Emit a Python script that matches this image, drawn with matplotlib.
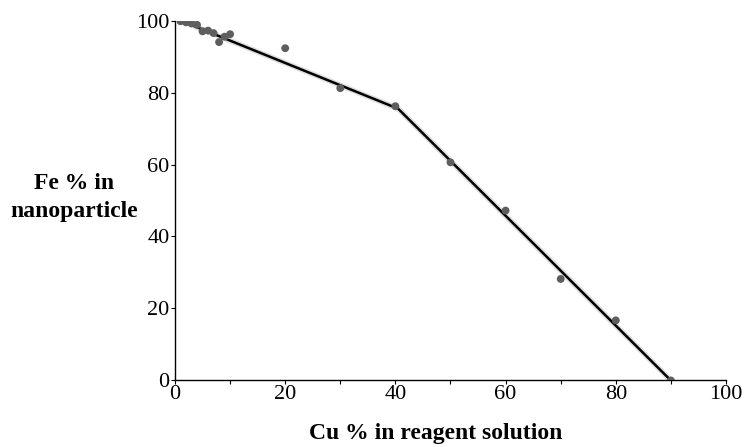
import matplotlib.pyplot as plt
from matplotlib.ticker import MultipleLocator

plt.rcParams['font.family'] = ['Liberation Serif', 'DejaVu Serif']

# measured points
cu = [1, 2, 3, 4, 5, 6, 7, 8, 9, 10, 20, 30, 40, 50, 60, 70, 80, 90]
fe = [99.8, 99.5, 99.2, 98.8, 97, 97.2, 96.5, 94, 95.5, 96.2,
      92.3, 81.2, 76.2, 60.6, 47.2, 28.2, 16.7, 0]

# piecewise trend line
fit_cu = [1, 40.5, 90]
fit_fe = [100, 75.5, 0]

fig = plt.figure(figsize=(7.44, 4.47), dpi=100)
ax = fig.add_axes([0.2352, 0.1488, 0.7406, 0.8053])

ax.plot(fit_cu, fit_fe, color='#c8c8c8', lw=4, zorder=1, alpha=0.6)
ax.plot(fit_cu, fit_fe, color='black', lw=1.8, zorder=2)
ax.scatter(cu, fe, s=32, color='#5e5e5e', zorder=3, edgecolors='none')

ax.set_xlim(0, 100)
ax.set_ylim(0, 100)
ax.xaxis.set_major_locator(MultipleLocator(20))
ax.xaxis.set_minor_locator(MultipleLocator(10))
ax.yaxis.set_major_locator(MultipleLocator(20))

for s in ['top', 'right']:
    ax.spines[s].set_visible(False)
for s in ['left', 'bottom']:
    ax.spines[s].set_linewidth(1.0)

ax.tick_params(axis='both', which='major', direction='out', length=3,
               width=0.8, labelsize=16, pad=1, colors='black')
ax.tick_params(axis='x', which='minor', direction='out', length=3, width=0.8)
ax.tick_params(axis='x', pad=0)

fig.text(0.586, 0.03, 'Cu % in reagent solution', ha='center', va='center',
         fontsize=17, fontweight='bold')
fig.text(0.099, 0.559, 'Fe % in\nnanoparticle', ha='center', va='center',
         fontsize=17, fontweight='bold', linespacing=1.45)

fig.savefig('out.png', dpi=100)
